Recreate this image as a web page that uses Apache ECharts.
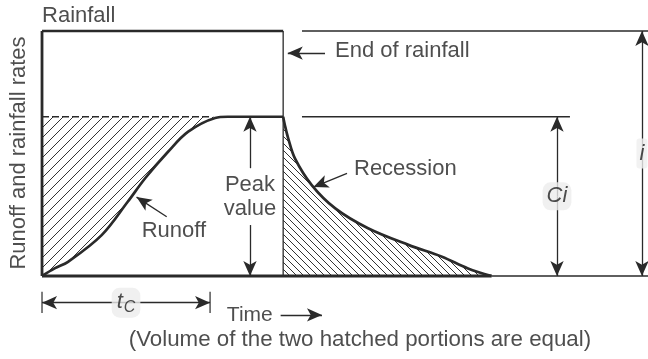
<!DOCTYPE html>
<html>
<head>
<meta charset="utf-8">
<script src="https://cdn.jsdelivr.net/npm/echarts@6/dist/echarts.min.js"></script>
<style>
  html, body { margin: 0; padding: 0; background: #fff; }
  #chart { width: 648px; height: 359px; }
</style>
</head>
<body>
<div id="chart"></div>
<script>
// Rational-method hydrograph: constant rainfall intensity i, runoff rising to C·i
const rainfallIntensity = 1.0;   // i
const peakRunoff = 0.65;         // C·i
const concentrationTime = 20;    // t_C
const rainfallEnd = 28.7;        // time at which rainfall stops

// Rising limb of runoff, then the plateau up to the end of rainfall
const risingTime = [0, 1.5, 3.1, 7.1, 10.2, 12.3, 15.0, 17.4, 20.6, 22.1, 28.7];
const risingRate = [0, 0.031, 0.058, 0.167, 0.303, 0.400, 0.507, 0.589, 0.645, 0.650, 0.650];

// Recession limb after rainfall ends
const recessionTime = [28.7, 28.9, 29.3, 30.1, 32.1, 34.9, 38.8, 43.6, 47.6, 50.7, 53.5];
const recessionRate = [0.650, 0.616, 0.562, 0.480, 0.371, 0.276, 0.195, 0.127, 0.079, 0.031, 0];

const INK = '#2a2a2a';
const FONT = '"Liberation Sans", Arial, Helvetica, sans-serif';

// Diagonal hatch tile; dir '/' or '\\'
function hatchTile(period, dir) {
  const c = document.createElement('canvas');
  c.width = c.height = period;
  const g = c.getContext('2d');
  g.strokeStyle = '#333';
  g.lineWidth = 1;
  g.beginPath();
  if (dir === '/') {
    g.moveTo(0, period); g.lineTo(period, 0);
    g.moveTo(-1, 1); g.lineTo(1, -1);
    g.moveTo(period - 1, period + 1); g.lineTo(period + 1, period - 1);
  } else {
    g.moveTo(0, 0); g.lineTo(period, period);
    g.moveTo(-1, period - 1); g.lineTo(1, period + 1);
    g.moveTo(period - 1, -1); g.lineTo(period + 1, 1);
  }
  g.stroke();
  return { image: c, repeat: 'repeat' };
}

const zip = (xs, ys) => xs.map((x, k) => [x, ys[k]]);
const plateauStart = risingTime[risingRate.indexOf(peakRunoff)];
const tailEnd = recessionTime[recessionTime.length - 1];
const X_MIN = -5, X_MAX = 72.12, Y_MIN = -0.3388, Y_MAX = 1.1265;
const extStart = 30.94;     // right-hand reference lines start here

function segment(a, b, width, extra) {
  return Object.assign({
    type: 'line', data: [a, b], symbol: 'none', silent: true, clip: false, z: 4,
    lineStyle: { color: INK, width: width, cap: 'butt' }
  }, extra || {});
}

// single-headed arrow, head at "to"
function arrow(from, to) {
  return [{ coord: from, symbol: 'none' }, { coord: to, symbol: 'arrow' }];
}
// dimension arrow: two heads pointing outward from the midpoint
function dimension(a, b) {
  const mid = [(a[0] + b[0]) / 2, (a[1] + b[1]) / 2];
  return [arrow(mid, a), arrow(mid, b)];
}

const yBelow = -0.109;     // level of the t_C dimension line
const arrows = [
  arrow([33.68, 0.910], [rainfallEnd + 0.55, 0.910]),               // end of rainfall
  arrow([24.75, 0.440], [24.75, peakRunoff]),                      // peak value (up)
  arrow([24.75, 0.208], [24.75, 0]),                               // peak value (down)
  arrow([14.84, 0.242], [11.25, 0.322]),                           // runoff
  arrow([36.30, 0.419], [32.30, 0.363]),                           // recession
  ...dimension([61.29, 0], [61.29, peakRunoff]),                   // Ci
  ...dimension([71.40, 0], [71.40, rainfallIntensity]),            // i
  ...dimension([0, yBelow], [concentrationTime, yBelow]),          // t_C
  arrow([28.4, -0.159], [33.32, -0.159])                           // time
];

const textBase = { show: true, color: '#222', fontFamily: FONT, fontSize: 22 };
function note(x, y, text, label) {
  return { value: [x, y], label: Object.assign({}, textBase, { formatter: text }, label || {}) };
}
const leftAligned = { position: 'right', distance: 0, align: 'left', verticalAlign: 'middle' };
const centered = { position: 'inside', align: 'center', verticalAlign: 'middle' };
const tag = { backgroundColor: '#ececec', borderRadius: 8 };

const notes = [
  note(0, 1.063, 'Rainfall', leftAligned),
  note(-2.74, 0.502, 'Runoff and rainfall rates', Object.assign({ rotate: 90 }, centered)),
  note(34.87, 0.918, 'End of rainfall', leftAligned),
  note(24.75, 0.322, 'Peak\nvalue', Object.assign({ lineHeight: 24 }, centered)),
  note(11.86, 0.184, 'Runoff', leftAligned),
  note(37.13, 0.437, 'Recession', leftAligned),
  note(61.29, peakRunoff / 2, 'Ci', Object.assign({ fontStyle: 'italic', padding: [3, 4, 3, 4] }, tag, centered)),
  note(71.40, rainfallIntensity / 2, 'i', Object.assign({ fontStyle: 'italic', padding: [4, 3, 4, 3], borderRadius: 3, backgroundColor: '#efefef' }, centered)),
  note(concentrationTime / 2, yBelow, '{t|t}{c|C}', Object.assign({
    padding: [0, 5, 2, 5],
    rich: {
      t: { fontSize: 22, fontStyle: 'italic', fontFamily: FONT, color: '#222' },
      c: { fontSize: 16, fontStyle: 'italic', fontFamily: FONT, color: '#222', padding: [12, 0, 0, 1] }
    }
  }, tag, centered)),
  note(22.0, -0.159, 'Time', Object.assign({ fontSize: 21 }, leftAligned)),
  note(37.84, -0.262, '(Volume of the two hatched portions are equal)', Object.assign({ fontSize: 22.3 }, centered))
];

const chart = echarts.init(document.getElementById('chart'), null, { renderer: 'canvas' });
chart.setOption({
  animation: false,
  backgroundColor: '#fff',
  grid: { left: 0, right: 0, top: 0, bottom: 0 },
  xAxis: { type: 'value', min: X_MIN, max: X_MAX, show: false },
  yAxis: { type: 'value', min: Y_MIN, max: Y_MAX, show: false },
  series: [
    // hatched storage above the rising limb
    {
      type: 'line', data: [[0, peakRunoff], [plateauStart, peakRunoff]], symbol: 'none', silent: true, z: 1,
      lineStyle: { width: 0, opacity: 0 },
      areaStyle: { color: hatchTile(10, '/'), opacity: 1 }
    },
    // dashed C·i level over the hatch
    segment([0, peakRunoff], [20.2, peakRunoff], 1.6, { z: 2, lineStyle: { color: INK, width: 1.6, type: [7, 3] } }),
    // rising limb + plateau (white underneath clears the hatch)
    {
      type: 'line', data: zip(risingTime, risingRate), symbol: 'none', silent: true, z: 3,
      smooth: 0.35,
      lineStyle: { color: INK, width: 2.7 },
      areaStyle: { color: '#fff', opacity: 1 }
    },
    // recession limb, hatched below
    {
      type: 'line', data: zip(recessionTime, recessionRate), symbol: 'none', silent: true, z: 3,
      smooth: 0.35,
      lineStyle: { color: INK, width: 2.7 },
      areaStyle: { color: hatchTile(7, '\\'), opacity: 1 }
    },
    // rainfall block and axes
    segment([0, rainfallIntensity], [rainfallEnd, rainfallIntensity], 2.7),
    segment([0, 0], [0, rainfallIntensity], 2.8),
    segment([rainfallEnd, 0], [rainfallEnd, rainfallIntensity], 1.3),
    segment([tailEnd, 0], [X_MAX, 0], 1.3),
    // reference lines for i and C·i
    segment([extStart, rainfallIntensity], [X_MAX, rainfallIntensity], 1.3),
    segment([extStart, peakRunoff], [62.83, peakRunoff], 1.3),
    // t_C extent ticks
    segment([0, -0.064], [0, -0.151], 1.2),
    segment([concentrationTime, -0.064], [concentrationTime, -0.151], 1.2),
    // baseline, carrying the annotation arrows
    segment([0, 0], [tailEnd, 0], 2.8, {
      z: 5,
      markLine: {
        silent: true, animation: false, z: 5,
        symbolSize: [10, 15],
        symbolOffset: [-7.5, 0],
        label: { show: false },
        lineStyle: { color: INK, width: 1.3, type: 'solid' },
        emphasis: { disabled: true },
        data: arrows
      }
    }),
    // text annotations
    {
      type: 'scatter', data: notes, symbol: 'circle', symbolSize: 0, silent: true, z: 10,
      itemStyle: { color: 'transparent' }
    }
  ]
});
</script>
</body>
</html>
